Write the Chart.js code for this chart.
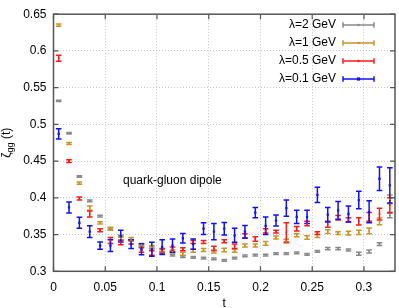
<!DOCTYPE html>
<html><head><meta charset="utf-8">
<script src="https://cdn.jsdelivr.net/npm/chart.js@4/dist/chart.umd.min.js"></script>
<style>html,body{margin:0;padding:0;background:#fff}</style>
</head><body>
<canvas id="c" width="399" height="308"></canvas>
<script>
// ---- data ----
const tValues = [0.005,0.015,0.025,0.035,0.045,0.055,0.065,0.075,0.085,0.095,0.105,0.115,0.125,0.135,0.145,0.155,0.165,0.175,0.185,0.195,0.205,0.215,0.225,0.235,0.245,0.255,0.265,0.275,0.285,0.295,0.305,0.315,0.325];
const seriesLabels = ['λ=2 GeV','λ=1 GeV','λ=0.5 GeV','λ=0.1 GeV'];
const zetaL2   = [0.532,0.488,0.429,0.396,0.375,0.358,0.348,0.342,0.335,0.332,0.326,0.322,0.320,0.319,0.318,0.317,0.315,0.318,0.321,0.322,0.322,0.324,0.324,0.325,0.323,0.327,0.331,0.331,0.329,0.324,0.327,0.337,0.376];
const errL2    = [0.001,0.001,0.001,0.0012,0.0012,0.0012,0.0012,0.0012,0.0012,0.0012,0.0012,0.0012,0.0012,0.0012,0.0012,0.0012,0.0012,0.0012,0.0012,0.0012,0.0012,0.0012,0.0012,0.0012,0.0012,0.0012,0.0015,0.0015,0.0015,0.002,0.002,0.002,0.003];
const zetaL1   = [0.635,0.474,0.420,0.386,0.366,0.358,0.345,0.344,0.336,0.333,0.328,0.327,0.324,0.328,0.329,0.327,0.329,0.328,0.335,0.335,0.338,0.346,0.341,0.349,0.346,0.348,0.354,0.352,0.352,0.353,0.355,0.368,0.398];
const errL1    = [0.0015,0.0015,0.0015,0.003,0.0015,0.002,0.002,0.002,0.002,0.002,0.002,0.002,0.002,0.002,0.002,0.002,0.0025,0.002,0.002,0.002,0.0025,0.002,0.0025,0.002,0.0025,0.002,0.0025,0.002,0.0025,0.003,0.004,0.0045,0.006];
const zetaL05  = [0.590,0.450,0.399,0.378,0.356,0.342,0.339,0.340,0.329,0.325,0.328,0.330,0.330,0.340,0.340,0.331,0.341,0.334,0.348,0.344,0.355,0.354,0.353,0.358,0.365,0.352,0.364,0.373,0.370,0.368,0.374,0.378,0.390];
const errL05   = [0.004,0.002,0.002,0.004,0.002,0.004,0.003,0.003,0.003,0.003,0.003,0.003,0.002,0.002,0.002,0.003,0.002,0.003,0.003,0.003,0.003,0.002,0.013,0.003,0.003,0.002,0.004,0.003,0.003,0.005,0.006,0.008,0.01];
const zetaL01  = [0.487,0.387,0.366,0.354,0.335,0.335,0.348,0.337,0.330,0.330,0.333,0.335,0.345,0.337,0.358,0.354,0.358,0.349,0.354,0.380,0.362,0.369,0.386,0.374,0.374,0.404,0.377,0.383,0.378,0.397,0.381,0.426,0.417];
const errL01   = [0.007,0.0075,0.0075,0.008,0.005,0.008,0.008,0.006,0.0075,0.0095,0.01,0.009,0.0065,0.007,0.008,0.011,0.0085,0.0095,0.0085,0.007,0.012,0.0075,0.011,0.009,0.009,0.0105,0.01,0.012,0.011,0.012,0.015,0.016,0.024];
const yTicks = [0.3,0.35,0.4,0.45,0.5,0.55,0.6,0.65];
const xTicks = [0,0.05,0.1,0.15,0.2,0.25,0.3];
const annotationText = 'quark-gluon dipole';

const colors = ['#8a8a8a','#c8952a','#ff1a1a','#1010ff'];
const allVals = [zetaL2, zetaL1, zetaL05, zetaL01];
const allErrs = [errL2, errL1, errL05, errL01];

const datasets = allVals.map((vals, i) => ({
  label: seriesLabels[i],
  data: vals.map((v, k) => ({x: tValues[k], y: v, e: allErrs[i][k]})),
  borderColor: colors[i],
  backgroundColor: colors[i],
  pointRadius: i === 3 ? 1.6 : 1.1,
  pointStyle: 'rect',
  pointBorderWidth: 0,
  showLine: false,
  order: 4 - i
}));

const FONT = 'Liberation Sans, Arial, Helvetica, sans-serif';

const errorBars = {
  id: 'errorBars',
  beforeDatasetsDraw(chart) {
    const {ctx, scales: {x, y}} = chart;
    ctx.save();
    chart.data.datasets.forEach(ds => {
      ctx.strokeStyle = ds.borderColor;
      ctx.lineWidth = 1.5;
      ds.data.forEach(p => {
        const px = x.getPixelForValue(p.x);
        const y1 = y.getPixelForValue(p.y - p.e);
        const y2 = y.getPixelForValue(p.y + p.e);
        ctx.beginPath();
        ctx.moveTo(px, y1); ctx.lineTo(px, y2);
        ctx.moveTo(px - 2.8, y1); ctx.lineTo(px + 2.8, y1);
        ctx.moveTo(px - 2.8, y2); ctx.lineTo(px + 2.8, y2);
        ctx.stroke();
      });
    });
    ctx.restore();
  }
};

const frame = {
  id: 'frame',
  afterDraw(chart) {
    const {ctx, chartArea: a, scales: {x, y}} = chart;
    ctx.save();
    ctx.strokeStyle = '#555';
    ctx.lineWidth = 1.5;
    ctx.strokeRect(a.left, a.top, a.right - a.left, a.bottom - a.top);
    ctx.lineWidth = 1.2;
    ctx.beginPath();
    xTicks.forEach(v => {
      const px = x.getPixelForValue(v);
      ctx.moveTo(px, a.bottom); ctx.lineTo(px, a.bottom - 5);
      ctx.moveTo(px, a.top); ctx.lineTo(px, a.top + 5);
    });
    yTicks.forEach(v => {
      const py = y.getPixelForValue(v);
      ctx.moveTo(a.left, py); ctx.lineTo(a.left + 5, py);
      ctx.moveTo(a.right, py); ctx.lineTo(a.right - 5, py);
    });
    ctx.stroke();

    // annotation
    ctx.fillStyle = '#000';
    ctx.font = '12px ' + FONT;
    ctx.textAlign = 'left';
    ctx.textBaseline = 'middle';
    ctx.fillText(annotationText, 123, 181);

    // legend
    const rowsY = [25, 43, 61, 79];
    chart.data.datasets.forEach((ds, i) => {
      const ly = rowsY[i];
      ctx.fillStyle = '#000';
      ctx.textAlign = 'right';
      ctx.fillText(ds.label, 336, ly);
      ctx.strokeStyle = ds.borderColor;
      ctx.lineWidth = 1.5;
      ctx.beginPath();
      ctx.moveTo(343, ly); ctx.lineTo(374, ly);
      ctx.moveTo(343, ly - 2.8); ctx.lineTo(343, ly + 2.8);
      ctx.moveTo(374, ly - 2.8); ctx.lineTo(374, ly + 2.8);
      ctx.stroke();
      ctx.fillStyle = ds.backgroundColor;
      const r = ds.pointRadius;
      ctx.fillRect(358.5 - r, ly - r, 2 * r, 2 * r);
    });

    // y-axis title with subscript
    ctx.translate(10, (a.top + a.bottom) / 2);
    ctx.rotate(-Math.PI / 2);
    ctx.fillStyle = '#000';
    ctx.textBaseline = 'alphabetic';
    ctx.textAlign = 'left';
    const big = '12px ' + FONT, small = '9px ' + FONT;
    ctx.font = big; const w1 = ctx.measureText('ζ').width;
    ctx.font = small; const w2 = ctx.measureText('gg').width;
    ctx.font = big; const w3 = ctx.measureText(' (t)').width;
    let sx = -(w1 + w2 + w3) / 2;
    ctx.font = big; ctx.fillText('ζ', sx, 0); sx += w1;
    ctx.font = small; ctx.fillText('gg', sx, 3); sx += w2;
    ctx.font = big; ctx.fillText(' (t)', sx, 0);
    ctx.restore();
  }
};

new Chart(document.getElementById('c'), {
  type: 'scatter',
  data: { datasets },
  options: {
    responsive: false,
    animation: false,
    layout: { padding: { left: 0, top: 3, right: 1, bottom: 0 } },
    plugins: { legend: { display: false }, tooltip: { enabled: false } },
    scales: {
      x: {
        type: 'linear', min: 0, max: 0.33,
        afterFit: s => { s.height = 36.7; },
        afterBuildTicks: s => { s.ticks = xTicks.map(v => ({value: v})); },
        ticks: { font: { family: FONT, size: 12 }, color: '#000', padding: 9, maxRotation: 0,
                 callback: v => String(Number(v.toFixed(2))) },
        grid: { color: '#c8c8c8', drawTicks: false, lineWidth: 1 },
        border: { display: false, dash: [1, 2] },
        title: { display: true, text: 't', font: { family: FONT, size: 12, lineHeight: 0.67 }, color: '#000', padding: 0 }
      },
      y: {
        type: 'linear', min: 0.3, max: 0.65,
        afterFit: s => { s.width = 53.5; },
        afterBuildTicks: s => { s.ticks = yTicks.map(v => ({value: v})); },
        ticks: { font: { family: FONT, size: 12 }, color: '#000', padding: 7,
                 callback: v => String(Number(v.toFixed(2))) },
        grid: { color: '#c8c8c8', drawTicks: false, lineWidth: 1 },
        border: { display: false, dash: [1, 2] }
      }
    }
  },
  plugins: [errorBars, frame]
});
</script>
</body></html>
